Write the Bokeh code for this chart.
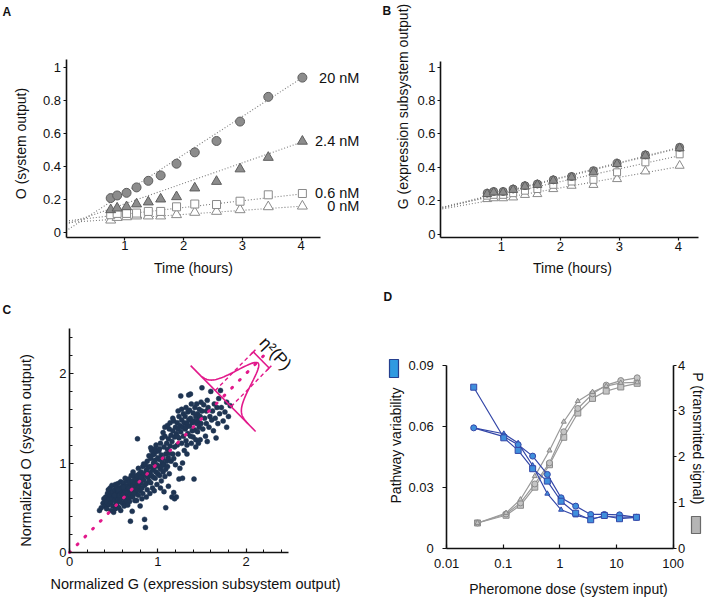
import math
import numpy as np
from bokeh.plotting import figure
from bokeh.models import (Range1d, LinearAxis, FixedTicker, Label, LabelSet,
                          ColumnDataSource, BoxAnnotation)
from bokeh.layouts import row, column
from bokeh.embed import file_html
from bokeh.resources import INLINE
from bokeh.core.properties import value

FONT = "Liberation Sans"

# ---------------- Panel A / B data ----------------
time_h = [0.76, 0.87, 1.03, 1.20, 1.40, 1.61, 1.88, 2.19, 2.56, 2.96, 3.44, 4.02]
dose_names = ["20 nM", "2.4 nM", "0.6 nM", "0 nM"]

A_20 = [0.209, 0.225, 0.241, 0.274, 0.314, 0.347, 0.418, 0.487, 0.556, 0.674, 0.824, 0.941]
A_24 = [0.138, 0.148, 0.156, 0.173, 0.185, 0.203, 0.217, 0.270, 0.310, 0.386, 0.456, 0.554]
A_06 = [0.108, 0.116, 0.116, 0.118, 0.128, 0.128, 0.156, 0.173, 0.170, 0.190, 0.229, 0.237]
A_00 = [0.075, 0.091, 0.095, 0.100, 0.100, 0.100, 0.108, 0.122, 0.128, 0.138, 0.156, 0.160]
A_fit_intercept = [0.010, 0.050, 0.070, 0.060]
A_fit_slope = [0.2316, 0.1244, 0.0410, 0.0249]

B_20 = [0.245, 0.255, 0.255, 0.270, 0.290, 0.300, 0.325, 0.345, 0.380, 0.425, 0.475, 0.520]
B_24 = [0.240, 0.250, 0.250, 0.265, 0.285, 0.295, 0.320, 0.340, 0.370, 0.420, 0.470, 0.515]
B_06 = [0.230, 0.235, 0.235, 0.245, 0.260, 0.270, 0.295, 0.315, 0.325, 0.370, 0.430, 0.478]
B_00 = [0.210, 0.215, 0.215, 0.220, 0.235, 0.240, 0.270, 0.290, 0.295, 0.330, 0.376, 0.410]
B_fit_intercept = [0.160, 0.155, 0.160, 0.150]
B_fit_slope = [0.0896, 0.0896, 0.0771, 0.0634]
fit_t_end = 4.02

AB_yticks = [0, 0.2, 0.4, 0.6, 0.8, 1]
AB_ylabels = ["0", "0.2", "0.4", "0.6", "0.8", "1"]
AB_xticks = [1, 2, 3, 4]
AB_xlabels = ["1", "2", "3", "4"]

# ---------------- Panel C data ----------------
scatter_GO = [
    (0.34, 0.47), (0.36, 0.50), (0.38, 0.55), (0.40, 0.52), (0.39, 0.60),
    (0.41, 0.62), (0.42, 0.57), (0.43, 0.66), (0.44, 0.53), (0.44, 0.70), (0.45, 0.60), (0.42, 0.49),
    (0.46, 0.64), (0.46, 0.72), (0.47, 0.56), (0.47, 0.67), (0.48, 0.60), (0.48, 0.75), (0.49, 0.52),
    (0.49, 0.68), (0.50, 0.63), (0.50, 0.45), (0.47, 0.47),
    (0.51, 0.70), (0.51, 0.58), (0.52, 0.66), (0.52, 0.76), (0.53, 0.62), (0.53, 0.54), (0.54, 0.71),
    (0.54, 0.66), (0.55, 0.59), (0.55, 0.77), (0.52, 0.49), (0.53, 0.73), (0.51, 0.64), (0.54, 0.52),
    (0.56, 0.68), (0.56, 0.63), (0.57, 0.72), (0.57, 0.57), (0.58, 0.66), (0.58, 0.79), (0.59, 0.61),
    (0.59, 0.70), (0.60, 0.55), (0.60, 0.74), (0.56, 0.50), (0.58, 0.47), (0.57, 0.64), (0.59, 0.67),
    (0.55, 0.70),
    (0.61, 0.66), (0.61, 0.78), (0.62, 0.60), (0.62, 0.71), (0.63, 0.68), (0.63, 0.56), (0.64, 0.75),
    (0.64, 0.63), (0.65, 0.70), (0.65, 0.80), (0.62, 0.52), (0.61, 0.73), (0.63, 0.83), (0.64, 0.58),
    (0.60, 0.64),
    (0.66, 0.67), (0.66, 0.74), (0.67, 0.61), (0.67, 0.82), (0.68, 0.70), (0.68, 0.57), (0.69, 0.76),
    (0.69, 0.65), (0.70, 0.72), (0.70, 0.86), (0.66, 0.53), (0.69, 0.35), (0.67, 0.72), (0.68, 0.79),
    (0.70, 0.62),
    (0.71, 0.69), (0.71, 0.80), (0.72, 0.74), (0.72, 0.63), (0.73, 0.85), (0.73, 0.71), (0.74, 0.77),
    (0.74, 0.58), (0.75, 0.82), (0.75, 0.68), (0.72, 0.90), (0.71, 0.46), (0.73, 0.66), (0.74, 0.73),
    (0.76, 0.75), (0.76, 0.86), (0.77, 0.70), (0.77, 1.27), (0.78, 0.80), (0.78, 0.64), (0.79, 0.88),
    (0.79, 0.74), (0.80, 0.83), (0.80, 0.69), (0.76, 0.58), (0.78, 0.94), (0.77, 0.78), (0.80, 0.52),
    (0.81, 0.78), (0.81, 0.90), (0.82, 0.72), (0.82, 0.85), (0.83, 0.96), (0.83, 0.66), (0.84, 0.81),
    (0.84, 0.88), (0.85, 0.75), (0.85, 0.37), (0.82, 0.60), (0.84, 0.99), (0.81, 0.84),
    (0.86, 0.28), (0.86, 0.86), (0.87, 0.92), (0.87, 0.77), (0.88, 1.02), (0.88, 0.70), (0.89, 0.84),
    (0.89, 0.95), (0.90, 0.80), (0.90, 1.08), (0.87, 0.62), (0.86, 0.98),
    (0.91, 0.89), (0.91, 0.96), (0.92, 0.78), (0.92, 1.05), (0.93, 0.86), (0.93, 1.14), (0.94, 0.92),
    (0.94, 0.72), (0.95, 1.00), (0.95, 0.84), (0.92, 1.17), (0.91, 0.66), (0.94, 1.09),
    (0.96, 0.95), (0.96, 1.10), (0.97, 0.83), (0.97, 1.03), (0.98, 0.90), (0.98, 1.20), (0.99, 0.98),
    (0.99, 0.76), (1.00, 1.06), (1.00, 0.88), (0.97, 1.16), (0.96, 0.69), (0.98, 1.13),
    (1.01, 0.96), (1.01, 1.13), (1.02, 0.86), (1.02, 1.04), (1.03, 1.22), (1.03, 0.93), (1.04, 1.09),
    (1.04, 0.80), (1.05, 1.00), (1.05, 1.28), (1.02, 1.16), (1.03, 0.72), (1.04, 0.96),
    (1.06, 1.05), (1.06, 0.90), (1.07, 1.18), (1.07, 0.98), (1.08, 1.30), (1.08, 0.85), (1.09, 1.10),
    (1.09, 0.50), (1.10, 1.02), (1.10, 1.22), (1.07, 0.68), (1.08, 1.40), (1.06, 1.34), (1.09, 0.93),
    (1.11, 1.15), (1.11, 0.96), (1.12, 1.27), (1.12, 1.06), (1.13, 1.38), (1.13, 0.88), (1.14, 1.19),
    (1.14, 1.45), (1.15, 1.02), (1.15, 1.31), (1.12, 0.74), (1.13, 1.11), (1.11, 1.42),
    (1.16, 1.24), (1.16, 0.62), (1.17, 1.36), (1.17, 1.10), (1.18, 1.47), (1.18, 0.67), (1.19, 1.29),
    (1.19, 1.18), (1.20, 1.40), (1.20, 0.98), (1.17, 1.50), (1.18, 1.05), (1.19, 0.60),
    (1.21, 1.33), (1.21, 0.62), (1.22, 1.45), (1.22, 1.20), (1.23, 1.38), (1.23, 1.10), (1.24, 1.52),
    (1.24, 1.28), (1.25, 1.42), (1.25, 0.94), (1.22, 1.30), (1.23, 1.58), (1.24, 0.82),
    (1.26, 1.75), (1.26, 1.35), (1.27, 1.48), (1.27, 1.22), (1.28, 0.83), (1.28, 1.40), (1.29, 1.55),
    (1.29, 1.30), (1.30, 1.45), (1.30, 1.14), (1.27, 1.60), (1.28, 1.00),
    (1.31, 1.38), (1.31, 1.52), (1.32, 1.25), (1.32, 1.62), (1.33, 1.44), (1.33, 1.10), (1.34, 1.33),
    (1.34, 1.57), (1.35, 1.48), (1.35, 1.76), (1.32, 1.40), (1.33, 1.20),
    (1.36, 1.41), (1.36, 1.59), (1.37, 1.30), (1.37, 1.50), (1.38, 1.66), (1.38, 1.22), (1.39, 1.45),
    (1.39, 1.36), (1.40, 1.56), (1.40, 1.29), (1.41, 0.82), (1.37, 1.77),
    (1.41, 1.47), (1.42, 1.62), (1.42, 1.37), (1.43, 1.52), (1.43, 1.26), (1.44, 1.44), (1.44, 1.66),
    (1.45, 1.35), (1.45, 1.55), (1.43, 1.18),
    (1.46, 1.48), (1.46, 1.22), (1.47, 1.60), (1.47, 1.40), (1.48, 1.52), (1.48, 1.26), (1.49, 1.68),
    (1.49, 1.44), (1.50, 1.58), (1.50, 1.84),
    (1.51, 1.38), (1.52, 1.65), (1.53, 1.50), (1.54, 1.30), (1.55, 1.58), (1.55, 1.44), (1.56, 1.24),
    (1.57, 1.62), (1.58, 1.40), (1.59, 1.52), (1.60, 1.80), (1.56, 1.70),
    (1.61, 1.48), (1.62, 1.58), (1.63, 1.36), (1.64, 1.66), (1.65, 1.50), (1.66, 1.28), (1.67, 1.62),
    (1.68, 1.44), (1.69, 1.72), (1.70, 1.55),
    (1.72, 1.62), (1.74, 1.47), (1.76, 1.57), (1.78, 1.68), (1.80, 1.52), (1.82, 1.64), (1.71, 1.81),
    (1.78, 1.40),
]
C_G = [g for g, o in scatter_GO]
C_O = [o for g, o in scatter_GO]
C_ticks = [0, 1, 2]
C_ticklabels = ["0", "1", "2"]
C_minor = [0.2, 0.4, 0.6, 0.8, 1.2, 1.4, 1.6, 1.8, 2.2, 2.4]
diag_end = 2.2
# schematic of the eta^2(P) distribution
dist_center = (1.74, 1.72)
dist_base_half = 0.52
dist_peak = 0.56
dist_sigma = 0.11
dist_w_range = (0.34, -0.40)
dist_band_half = 0.127
dist_band_len = 0.61

# ---------------- Panel D data ----------------
dose_blue = [0.030, 0.102, 0.183, 0.33, 0.60, 1.05, 1.9, 3.5, 6.1, 11.3, 22.5]
dose_gray = [0.035, 0.112, 0.201, 0.36, 0.655, 1.17, 2.07, 3.77, 6.58, 11.9, 23.2]
var_sq = [0.0791, 0.0542, 0.0480, 0.0390, 0.0329, 0.0230, 0.0171, 0.0139, 0.0160, 0.0144, 0.0151]
var_ci = [0.0591, 0.0548, 0.0508, 0.0452, 0.0362, 0.0247, 0.0206, 0.0165, 0.0165, 0.0163, 0.0151]
var_tr = [0.0591, 0.0562, 0.0516, 0.0406, 0.0267, 0.0188, 0.0160, 0.0144, 0.0155, 0.0152, 0.0152]
P_sq = [0.547, 0.716, 0.934, 1.33, 1.82, 2.42, 2.95, 3.27, 3.43, 3.52, 3.60]
P_ci = [0.547, 0.744, 0.985, 1.40, 1.86, 2.54, 3.05, 3.37, 3.56, 3.66, 3.72]
P_tr = [0.547, 0.766, 1.06, 1.57, 2.13, 2.76, 3.21, 3.41, 3.54, 3.61, 3.62]
D_xticks = [0.01, 0.1, 1, 10, 100]
D_xlabels = ["0.01", "0.1", "1", "10", "100"]
D_lticks = [0, 0.03, 0.06, 0.09]
D_llabels = ["0", "0.03", "0.06", "0.09"]
D_rticks = [0, 1, 2, 3, 4]
D_rlabels = ["0", "1", "2", "3", "4"]

GRAY_FILL = "#8c8c8c"
GRAY_EDGE = "#5e5e5e"
OPEN_EDGE = "#8a8a8a"
FIT_COLOR = "#7a7a7a"
PINK = "#e2198b"
NAVY = "#1f3553"
BLUE_LINE = "#3447a8"
BLUE_FILL = "#3f8fdc"
DGRAY_LINE = "#9a9a9a"
DGRAY_FILL = "#c4c4c4"

# ---------------- page layout (pixels) ----------------
W1, W2 = 362, 345
H1, H2 = 287, 310

# pixel -> data calibration of each panel (page pixels)
def ax_(px): return (px - 65.5) / 58.8
def ay_(py): return (232.0 - py) / 164.6
def bx_(px): return (px - 441.8) / 59.04
def by_(py): return (233.5 - py) / 166.7
def cx_(px): return (px - 69.0) / 88.3
def cy_(py): return (552.0 - py) / 89.5
def dx_(px): return 10 ** (-2 + (px - 446.2) / 56.6)
def dyl(py): return (547.5 - py) / 2033.0
def dyr(py): return (547.5 - py) / 45.75


def make_fig(w, h, xr, yr, **kw):
    p = figure(width=w, height=h, x_range=Range1d(*xr), y_range=Range1d(*yr),
               output_backend="svg", toolbar_location=None, title=None,
               min_border=0, min_border_left=0, min_border_right=0,
               min_border_top=0, min_border_bottom=0, **kw)
    p.outline_line_color = None
    p.xgrid.visible = False
    p.ygrid.visible = False
    p.background_fill_color = "white"
    p.border_fill_color = "white"
    return p


def style_axis(ax, loc, bounds, ticks, labels, tick_out=3, tick_in=0, standoff=3,
               minor=None):
    ax.fixed_location = loc
    ax.bounds = bounds
    ax.axis_line_color = "#111111"
    ax.axis_line_width = 1.6
    ax.major_tick_line_color = "#111111"
    ax.major_tick_line_width = 1.2
    ax.major_tick_out = tick_out
    ax.major_tick_in = tick_in
    ax.major_label_standoff = standoff
    ax.major_label_text_font = FONT
    ax.major_label_text_font_size = "13px"
    ax.major_label_text_color = "#111111"
    ax.axis_label = None
    if minor is None:
        ax.ticker = FixedTicker(ticks=ticks)
        ax.minor_tick_line_color = None
    else:
        ax.ticker = FixedTicker(ticks=ticks, minor_ticks=minor)
        ax.minor_tick_line_color = "#111111"
        ax.minor_tick_in = 3
        ax.minor_tick_out = 0
    ax.major_label_overrides = {t: s for t, s in zip(ticks, labels)}


def text(p, x, y, s, size="14px", angle=0.0, align="center", baseline="middle",
         bold=False, y_range_name="default"):
    p.add_layout(Label(x=x, y=y, text=s, angle=angle, text_align=align,
                       text_baseline=baseline, text_font=FONT, text_font_size=size,
                       text_font_style="bold" if bold else "normal",
                       text_color="#111111", y_range_name=y_range_name))


def timecourse(p, series, intercepts, slopes, msize):
    markers = [("circle", GRAY_FILL, GRAY_EDGE), ("triangle", GRAY_FILL, GRAY_EDGE),
               ("square", "white", OPEN_EDGE), ("triangle", "white", OPEN_EDGE)]
    for b, m in zip(intercepts, slopes):
        p.line([0, fit_t_end], [b, b + m * fit_t_end], line_color=FIT_COLOR,
               line_width=1.1, line_dash="1 2")
    for i in [3, 2, 0, 1]:
        mk, fc, lc = markers[i]
        p.scatter(time_h, series[i], marker=mk,
                  size=msize + (1 if mk == "triangle" else 0) - (1 if mk == "square" else 0),
                  fill_color=fc, line_color=lc, line_width=1)


# ---------------- Panel A ----------------
pA = make_fig(W1, H1, (ax_(0), ax_(W1)), (ay_(H1), ay_(0)))
seriesA = [A_20, A_24, A_06, A_00]
timecourse(pA, seriesA, A_fit_intercept, A_fit_slope, 9)
style_axis(pA.xaxis[0], -0.03, (0, 4.33), AB_xticks, AB_xlabels, tick_out=3, standoff=1)
style_axis(pA.yaxis[0], 0, (-0.03, 1.05), AB_yticks, AB_ylabels, tick_out=3, standoff=2)
labA = ColumnDataSource(dict(x=[time_h[-1]] * 4, y=[s[-1] for s in seriesA], text=dose_names))
pA.add_layout(LabelSet(x="x", y="y", text="text", source=labA, x_offset=57,
                       text_align="right", text_baseline="middle",
                       text_font=value(FONT), text_font_size=value("14.5px"),
                       text_color="#111111"))
text(pA, ax_(193), ay_(267), "Time (hours)")
text(pA, ax_(20), ay_(143), "O (system output)", angle=math.pi / 2)
text(pA, ax_(2), ay_(4), "A", size="12px", align="left", baseline="top", bold=True)

# ---------------- Panel B ----------------
pB = make_fig(W2, H1, (bx_(W1), bx_(W1 + W2)), (by_(H1), by_(0)))
timecourse(pB, [B_20, B_24, B_06, B_00], B_fit_intercept, B_fit_slope, 8)
style_axis(pB.xaxis[0], -0.02, (-0.03, 4.34), AB_xticks, AB_xlabels, tick_out=3, standoff=2)
style_axis(pB.yaxis[0], -0.03, (-0.02, 1.035), AB_yticks, AB_ylabels, tick_out=3, standoff=2)
text(pB, bx_(572), by_(267), "Time (hours)")
text(pB, bx_(402), by_(106), "G (expression subsystem output)", angle=math.pi / 2)
text(pB, bx_(382), by_(3), "B", size="12px", align="left", baseline="top", bold=True)

# ---------------- Panel C ----------------
pC = make_fig(W1, H2, (cx_(0), cx_(W1)), (cy_(H1 + H2), cy_(H1)))
pC.scatter(C_G, C_O, marker="circle", size=5, fill_color=NAVY, line_color=NAVY, line_width=0.5)
pC.line([0, diag_end], [0, diag_end], line_color=PINK, line_width=3, line_dash="1 10",
        line_cap="round")
s2 = 1 / math.sqrt(2)
du = np.array([s2, s2])
dw = np.array([-s2, s2])
cc = np.array(dist_center)
b0 = cc + dw * dist_base_half
b1 = cc - dw * dist_base_half
pC.line([b0[0], b1[0]], [b0[1], b1[1]], line_color=PINK, line_width=1.6)
ws = np.linspace(dist_w_range[0], dist_w_range[1], 90)
hs = dist_peak * np.exp(-ws ** 2 / (2 * dist_sigma ** 2))
curve = cc[None, :] + ws[:, None] * dw[None, :] + hs[:, None] * du[None, :]
pC.line(curve[:, 0], curve[:, 1], line_color=PINK, line_width=1.6)
for sgn in (1, -1):
    s0 = cc + sgn * dist_band_half * dw
    s1 = s0 + dist_band_len * du
    pC.line([s0[0], s1[0]], [s0[1], s1[1]], line_color=PINK, line_width=1.4, line_dash="4 3")
    cap0 = s1 - 0.035 * du
    cap1 = s1 + 0.035 * du
    pC.line([cap0[0], cap1[0]], [cap0[1], cap1[1]], line_color=PINK, line_width=1.6)
br0 = cc + dist_band_half * dw + dist_band_len * du
br1 = cc - dist_band_half * dw + dist_band_len * du
pC.line([br0[0], br1[0]], [br0[1], br1[1]], line_color=PINK, line_width=1.6)
style_axis(pC.xaxis[0], 0, (0, 2.48), C_ticks, C_ticklabels, tick_out=0, tick_in=4,
           standoff=4, minor=C_minor)
style_axis(pC.yaxis[0], 0, (0, 2.5), C_ticks, C_ticklabels, tick_out=0, tick_in=4,
           standoff=3, minor=C_minor)
text(pC, cx_(275), cy_(353), "\u03b7\u00b2(P)", size="17px", angle=-0.82)
text(pC, cx_(195), cy_(583), "Normalized G (expression subsystem output)", size="14.5px")
text(pC, cx_(25), cy_(450), "Normalized O (system output)", size="14.5px", angle=math.pi / 2)
text(pC, cx_(2), cy_(302), "C", size="12px", align="left", baseline="top", bold=True)

# ---------------- Panel D ----------------
pD = make_fig(W2, H2, (dx_(W1), dx_(W1 + W2)), (dyl(H1 + H2), dyl(H1)), x_axis_type="log")
pD.extra_y_ranges = {"P": Range1d(dyr(H1 + H2), dyr(H1))}
rax = LinearAxis(y_range_name="P")
pD.add_layout(rax, "right")
for ys, mk, sz in ((P_sq, "square", 6), (P_ci, "circle", 6), (P_tr, "triangle", 5)):
    pD.line(dose_gray, ys, y_range_name="P", line_color=DGRAY_LINE, line_width=1.2)
    pD.scatter(dose_gray, ys, y_range_name="P", marker=mk, size=sz,
               fill_color=DGRAY_FILL, line_color="#8a8a8a", line_width=1)
for ys, mk, sz in ((var_tr, "triangle", 5), (var_ci, "circle", 6), (var_sq, "square", 6)):
    pD.line(dose_blue, ys, line_color=BLUE_LINE, line_width=1.2)
    pD.scatter(dose_blue, ys, marker=mk, size=sz, fill_color=BLUE_FILL,
               line_color=BLUE_LINE, line_width=1)
style_axis(pD.xaxis[0], 0, (0.01, 100), D_xticks, D_xlabels, tick_out=0, tick_in=4, standoff=11)
style_axis(pD.yaxis[0], 0.01, (0, 0.09), D_lticks, D_llabels, tick_out=4, standoff=9)
style_axis(rax, 100, (0, 4), D_rticks, D_rlabels, tick_out=3, standoff=2)
text(pD, dx_(568), dyl(588), "Pheromone dose (system input)")
text(pD, dx_(395), dyl(445), "Pathway variability", angle=math.pi / 2)
text(pD, dx_(697), dyl(438), "P (transmitted signal)", angle=-math.pi / 2)
text(pD, dx_(383), dyl(289), "D", size="12px", align="left", baseline="top", bold=True)
pD.add_layout(BoxAnnotation(left=dx_(389), right=dx_(398), top=dyl(359), bottom=dyl(377),
                            fill_color="#2f9ae0", fill_alpha=1, line_color="#25408f",
                            line_width=1.2, line_alpha=1))
pD.add_layout(BoxAnnotation(left=dx_(691), right=dx_(700), top=dyl(516), bottom=dyl(533),
                            fill_color="#b5b5b5", fill_alpha=1, line_color="#6a6a6a",
                            line_width=1.2, line_alpha=1))

layout = column(row(pA, pB), row(pC, pD))
open("out.html", "w").write(file_html(layout, INLINE))
